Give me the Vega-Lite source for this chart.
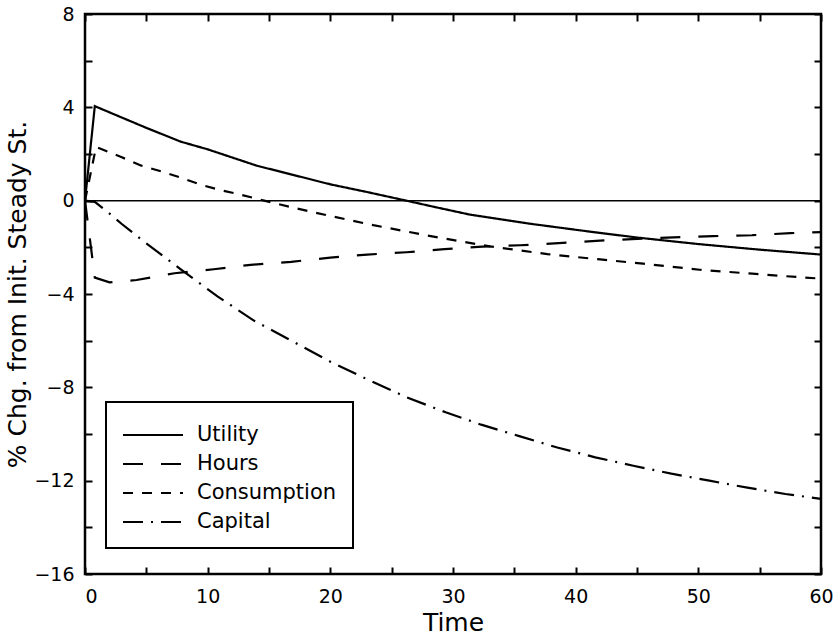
{
  "$schema": "https://vega.github.io/schema/vega-lite/v6.json",
  "width": 736,
  "height": 560,
  "autosize": {"type": "none"},
  "padding": {"left": 85, "top": 14, "right": 19, "bottom": 70},
  "background": "white",
  "config": {
    "font": "DejaVu Sans",
    "view": {"stroke": "black", "strokeWidth": 2.5},
    "axis": {"grid": false, "domain": false, "tickColor": "black", "tickWidth": 2, "tickSize": -7, "labelColor": "black", "titleColor": "black", "labelFontSize": 19, "titleFontSize": 25, "titleFontWeight": "normal"}
  },
  "datasets": {
    "series": [
      {"s": "Utility", "t": 0, "v": 0},
      {"s": "Utility", "t": 0.8, "v": 4.05},
      {"s": "Utility", "t": 5, "v": 3.12},
      {"s": "Utility", "t": 7.8, "v": 2.53},
      {"s": "Utility", "t": 10, "v": 2.2},
      {"s": "Utility", "t": 14, "v": 1.5},
      {"s": "Utility", "t": 17, "v": 1.1},
      {"s": "Utility", "t": 20, "v": 0.7},
      {"s": "Utility", "t": 23, "v": 0.37},
      {"s": "Utility", "t": 26.2, "v": 0},
      {"s": "Utility", "t": 28.5, "v": -0.27},
      {"s": "Utility", "t": 31.4, "v": -0.6},
      {"s": "Utility", "t": 36.3, "v": -0.99},
      {"s": "Utility", "t": 41.2, "v": -1.33},
      {"s": "Utility", "t": 45, "v": -1.58},
      {"s": "Utility", "t": 50, "v": -1.86},
      {"s": "Utility", "t": 55, "v": -2.1},
      {"s": "Utility", "t": 60, "v": -2.31},
      {"s": "Hours", "t": 0, "v": 0},
      {"s": "Hours", "t": 0.8, "v": -3.3},
      {"s": "Hours", "t": 2, "v": -3.5},
      {"s": "Hours", "t": 4.2, "v": -3.4},
      {"s": "Hours", "t": 7.3, "v": -3.11},
      {"s": "Hours", "t": 10.5, "v": -2.94},
      {"s": "Hours", "t": 13.5, "v": -2.75},
      {"s": "Hours", "t": 16.8, "v": -2.62},
      {"s": "Hours", "t": 20, "v": -2.44},
      {"s": "Hours", "t": 23, "v": -2.31},
      {"s": "Hours", "t": 26.2, "v": -2.21},
      {"s": "Hours", "t": 29.3, "v": -2.08},
      {"s": "Hours", "t": 32.4, "v": -1.97},
      {"s": "Hours", "t": 35.5, "v": -1.91},
      {"s": "Hours", "t": 38.6, "v": -1.82},
      {"s": "Hours", "t": 42, "v": -1.71},
      {"s": "Hours", "t": 45, "v": -1.64},
      {"s": "Hours", "t": 48, "v": -1.57},
      {"s": "Hours", "t": 51.2, "v": -1.52},
      {"s": "Hours", "t": 54.4, "v": -1.48},
      {"s": "Hours", "t": 57.5, "v": -1.39},
      {"s": "Hours", "t": 60, "v": -1.35},
      {"s": "Consumption", "t": 0, "v": 0},
      {"s": "Consumption", "t": 0.9, "v": 2.3},
      {"s": "Consumption", "t": 3, "v": 1.86},
      {"s": "Consumption", "t": 4.6, "v": 1.5},
      {"s": "Consumption", "t": 6.2, "v": 1.26},
      {"s": "Consumption", "t": 7.8, "v": 0.99},
      {"s": "Consumption", "t": 9.4, "v": 0.69},
      {"s": "Consumption", "t": 10.9, "v": 0.47},
      {"s": "Consumption", "t": 12.6, "v": 0.27},
      {"s": "Consumption", "t": 14.6, "v": 0},
      {"s": "Consumption", "t": 17.3, "v": -0.34},
      {"s": "Consumption", "t": 20.2, "v": -0.68},
      {"s": "Consumption", "t": 23.5, "v": -1.05},
      {"s": "Consumption", "t": 28.3, "v": -1.53},
      {"s": "Consumption", "t": 33, "v": -1.96},
      {"s": "Consumption", "t": 37.7, "v": -2.29},
      {"s": "Consumption", "t": 42, "v": -2.52},
      {"s": "Consumption", "t": 45.5, "v": -2.7},
      {"s": "Consumption", "t": 50.1, "v": -2.96},
      {"s": "Consumption", "t": 54.4, "v": -3.13},
      {"s": "Consumption", "t": 58.5, "v": -3.29},
      {"s": "Consumption", "t": 60, "v": -3.34},
      {"s": "Capital", "t": 0, "v": 0},
      {"s": "Capital", "t": 0.8, "v": -0.05},
      {"s": "Capital", "t": 2.2, "v": -0.64},
      {"s": "Capital", "t": 3, "v": -1.0},
      {"s": "Capital", "t": 4.6, "v": -1.67},
      {"s": "Capital", "t": 7.7, "v": -2.9},
      {"s": "Capital", "t": 10.8, "v": -4.1},
      {"s": "Capital", "t": 13.8, "v": -5.15},
      {"s": "Capital", "t": 17, "v": -6.05},
      {"s": "Capital", "t": 20, "v": -6.9},
      {"s": "Capital", "t": 23.1, "v": -7.68},
      {"s": "Capital", "t": 26.2, "v": -8.42},
      {"s": "Capital", "t": 29.4, "v": -9.07},
      {"s": "Capital", "t": 32.3, "v": -9.6},
      {"s": "Capital", "t": 35.4, "v": -10.09},
      {"s": "Capital", "t": 38.5, "v": -10.58},
      {"s": "Capital", "t": 41.6, "v": -11.0},
      {"s": "Capital", "t": 44.7, "v": -11.36},
      {"s": "Capital", "t": 47.8, "v": -11.7},
      {"s": "Capital", "t": 50.9, "v": -12.0},
      {"s": "Capital", "t": 54, "v": -12.3},
      {"s": "Capital", "t": 57.1, "v": -12.57},
      {"s": "Capital", "t": 60, "v": -12.78}
    ],
    "zero": [{"y": 0}]
  },
  "layer": [
    {
      "data": {"name": "zero"},
      "mark": {"type": "rule", "color": "black", "strokeWidth": 1.5},
      "encoding": {
        "y": {"field": "y", "type": "quantitative", "scale": {"domain": [-16, 8], "nice": false, "zero": false}, "axis": null}
      }
    },
    {
      "data": {"name": "series"},
      "mark": {"type": "point", "opacity": 0},
      "encoding": {
        "x": {"field": "t", "type": "quantitative", "axis": {"orient": "top", "values": [0,5,10,15,20,25,30,35,40,45,50,55,60], "labels": false, "title": null}},
        "y": {"field": "v", "type": "quantitative", "axis": {"orient": "right", "values": [-16,-14,-12,-10,-8,-6,-4,-2,0,2,4,6,8], "labels": false, "title": null}}
      }
    },
    {
      "data": {"name": "series"},
      "mark": {"type": "line", "color": "black", "strokeWidth": 2.2},
      "encoding": {
        "x": {
          "field": "t", "type": "quantitative",
          "scale": {"domain": [0, 60], "nice": false, "zero": false},
          "axis": {
            "orient": "bottom", "title": "Time",
            "values": [0,5,10,15,20,25,30,35,40,45,50,55,60],
            "labelExpr": "datum.value % 10 === 0 ? datum.label : ''",
            "labelAlign": {"condition": {"test": "datum.value === 0", "value": "left"}, "value": "center"},
            "labelPadding": 20, "titlePadding": 4
          }
        },
        "y": {
          "field": "v", "type": "quantitative",
          "scale": {"domain": [-16, 8], "nice": false, "zero": false},
          "axis": {
            "orient": "left", "title": "% Chg. from Init. Steady St.",
            "values": [-16,-14,-12,-10,-8,-6,-4,-2,0,2,4,6,8],
            "labelExpr": "datum.value % 4 === 0 ? datum.label : ''",
            "labelPadding": 18, "titlePadding": 3
          }
        },
        "strokeDash": {
          "field": "s", "type": "nominal",
          "scale": {"domain": ["Utility", "Hours", "Consumption", "Capital"], "range": [[1, 0], [20, 18], [10, 9], [20, 8, 2, 8]]},
          "legend": {
            "orient": "none", "legendX": 21, "legendY": 388, "title": " ", "titleFontSize": 5, "titlePadding": 1,
            "symbolType": "M-1,0H5", "symbolSize": 400, "symbolStrokeWidth": 2, "symbolStrokeColor": "black", "symbolFillColor": "transparent",
            "labelFontSize": 21, "labelColor": "black", "labelOffset": 53,
            "strokeColor": "black", "padding": 16, "rowPadding": 8,
            "encode": {
              "legend": {"update": {"strokeWidth": {"value": 2}}},
              "symbols": {"update": {"strokeDash": {"signal": "datum.value === 'Capital' ? [2, 9, 19, 9, 2, 200] : datum.value === 'Hours' ? [20, 20] : datum.value === 'Consumption' ? [9, 10, 9, 10, 9, 200] : [1, 0]"}}}
            }
          }
        }
      }
    }
  ],
  "resolve": {"axis": {"x": "independent", "y": "independent"}}
}
